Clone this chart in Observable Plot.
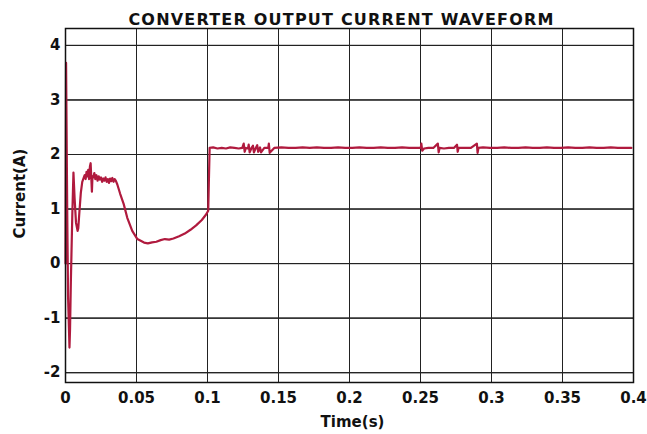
<!DOCTYPE html>
<html><head><meta charset="utf-8">
<script src="https://cdn.jsdelivr.net/npm/d3@7"></script>
<script src="https://cdn.jsdelivr.net/npm/@observablehq/plot@0.6"></script>
<style>body{margin:0;background:#fff;} svg{font-family:"DejaVu Sans";}</style>
</head><body><div id="chart"></div>
<script>
const title = "CONVERTER OUTPUT CURRENT WAVEFORM";
const xLabel = "Time(s)";
const yLabel = "Current(A)";
const xTicks = [0,0.05,0.1,0.15,0.2,0.25,0.3,0.35,0.4];
const xTickLabels = ["0","0.05","0.1","0.15","0.2","0.25","0.3","0.35","0.4"];
const yTicks = [-2,-1,0,1,2,3,4];
const yTickLabels = ["-2","-1","0","1","2","3","4"];

const time = [
 0,0.0004,0.0012,0.0018,0.0028,0.0032,0.0038,0.0048,0.0056,0.0064,0.0074,0.0085,0.009,0.0098,0.0108,0.0118,0.0128,
 0.0135,0.0142,0.0148,0.0155,0.016,0.0166,0.0172,0.0177,0.0182,0.0186,0.019,0.0196,0.0203,0.021,0.0218,0.0226,0.0234,
 0.0242,0.025,0.0258,0.0266,0.0274,0.0282,0.029,0.0298,0.0306,0.0314,0.0322,0.033,0.0338,0.0346,0.0354,
 0.0365,0.0385,0.041,0.0435,0.047,0.0506,0.0553,0.058,0.061,0.064,0.067,0.07,0.073,0.076,0.08,0.084,0.088,0.092,0.096,0.099,0.1005,
 0.1015,0.104,0.107,0.11,0.113,0.116,0.119,0.122,0.1245,0.1255,0.1262,0.127,0.1285,0.129,0.1297,0.131,0.132,0.1327,0.134,0.135,0.1357,0.137,0.1377,0.14,0.1428,0.1432,0.1438,
 0.147,0.152,0.157,0.162,0.167,0.172,0.177,0.182,0.187,0.192,0.197,0.202,0.207,0.212,0.217,0.222,0.227,0.232,0.237,0.242,0.247,
 0.2502,0.2506,0.2512,0.2525,0.2555,0.259,0.2622,0.2628,0.2634,0.2665,0.27,0.2735,0.2757,0.2762,0.2768,0.2805,0.2855,0.2897,0.2902,0.2908,
 0.294,0.299,0.304,0.309,0.314,0.319,0.324,0.329,0.334,0.339,0.344,0.349,0.354,0.359,0.364,0.369,0.374,0.379,0.384,0.389,0.394,0.3985
];
const current = [
 0,3.68,1.0,-0.6,-1.54,-1.2,-0.3,0.9,1.67,1.2,0.75,0.6,0.65,0.95,1.3,1.5,1.57,
 1.62,1.55,1.68,1.6,1.72,1.55,1.78,1.84,1.55,1.32,1.6,1.58,1.66,1.55,1.62,1.52,1.6,
 1.54,1.58,1.5,1.56,1.52,1.58,1.5,1.55,1.48,1.56,1.51,1.57,1.5,1.55,1.52,
 1.45,1.28,1.09,0.84,0.6,0.45,0.385,0.37,0.39,0.4,0.43,0.45,0.44,0.46,0.5,0.55,0.62,0.7,0.8,0.9,0.97,
 2.12,2.13,2.11,2.12,2.11,2.13,2.12,2.11,2.12,2.2,2.05,2.12,2.11,2.18,2.04,2.12,2.16,2.04,2.12,2.17,2.05,2.13,2.04,2.12,2.12,2.2,2.03,
 2.12,2.13,2.12,2.12,2.13,2.12,2.13,2.12,2.12,2.13,2.12,2.12,2.13,2.12,2.12,2.13,2.12,2.12,2.13,2.12,2.12,
 2.12,2.2,2.07,2.11,2.12,2.12,2.2,2.04,2.12,2.11,2.12,2.12,2.18,2.05,2.12,2.12,2.12,2.2,2.03,2.12,
 2.13,2.12,2.12,2.13,2.12,2.12,2.13,2.12,2.12,2.13,2.12,2.12,2.13,2.12,2.12,2.13,2.12,2.12,2.13,2.12,2.12,2.12
];
const data = time.map((t,i)=>({t, v: current[i]}));
const fmtX = d => xTickLabels[xTicks.indexOf(d)];
const fmtY = d => yTickLabels[yTicks.indexOf(d)];

const chart = Plot.plot({
  width: 647, height: 434,
  marginLeft: 65, marginRight: 14, marginTop: 28, marginBottom: 52,
  style: {fontFamily: "DejaVu Sans", fontSize: "15px", fontWeight: "bold", color: "#111"},
  x: {domain: [0, 0.4], label: null},
  y: {domain: [-2.18, 4.31], label: null},
  marks: [
    Plot.gridX(xTicks, {stroke: "#555", strokeOpacity: 0.7, strokeWidth: 1}),
    Plot.gridY(yTicks, {stroke: "#555", strokeOpacity: 0.7, strokeWidth: 1}),
    Plot.axisX(xTicks, {tickSize: 0, tickPadding: 10, fontSize: 15, fontWeight: "bold", tickFormat: fmtX}),
    Plot.axisY(yTicks, {tickSize: 0, tickPadding: 5, fontSize: 15, fontWeight: "bold", tickFormat: fmtY}),
    Plot.tickY(yTicks, {y: d=>d, x1: 0, x2: 0.004, stroke: "#222"}),
    Plot.tickY(yTicks, {y: d=>d, x1: 0.396, x2: 0.4, stroke: "#222"}),
    Plot.tickX(xTicks, {x: d=>d, y1: 4.31, y2: 4.24, stroke: "#222"}),
    Plot.line(data, {x: "t", y: "v", stroke: "#b01a3e", strokeWidth: 2.2, strokeLinejoin: "round"}),
    Plot.frame({stroke: "#111", strokeWidth: 1.5}),
    Plot.text([title], {frameAnchor: "top", dx: -8, dy: -9, text: d=>d, fontSize: 16, fontWeight: "bold", lineAnchor: "middle", fill: "#111"}),
    Plot.text([xLabel], {frameAnchor: "bottom", dx: 3, dy: 40, text: d=>d, fontSize: 15, fontWeight: "bold", lineAnchor: "middle", textAnchor: "middle", fill: "#111"}),
    Plot.text([yLabel], {frameAnchor: "left", dx: -45, dy: -12, rotate: -90, text: d=>d, fontSize: 15, fontWeight: "bold", lineAnchor: "middle", textAnchor: "middle", fill: "#111"})
  ]
});
document.getElementById("chart").appendChild(chart);
chart.querySelectorAll("text").forEach(t => { if (t.textContent === title) t.setAttribute("letter-spacing", "1.2"); });
</script></body></html>
